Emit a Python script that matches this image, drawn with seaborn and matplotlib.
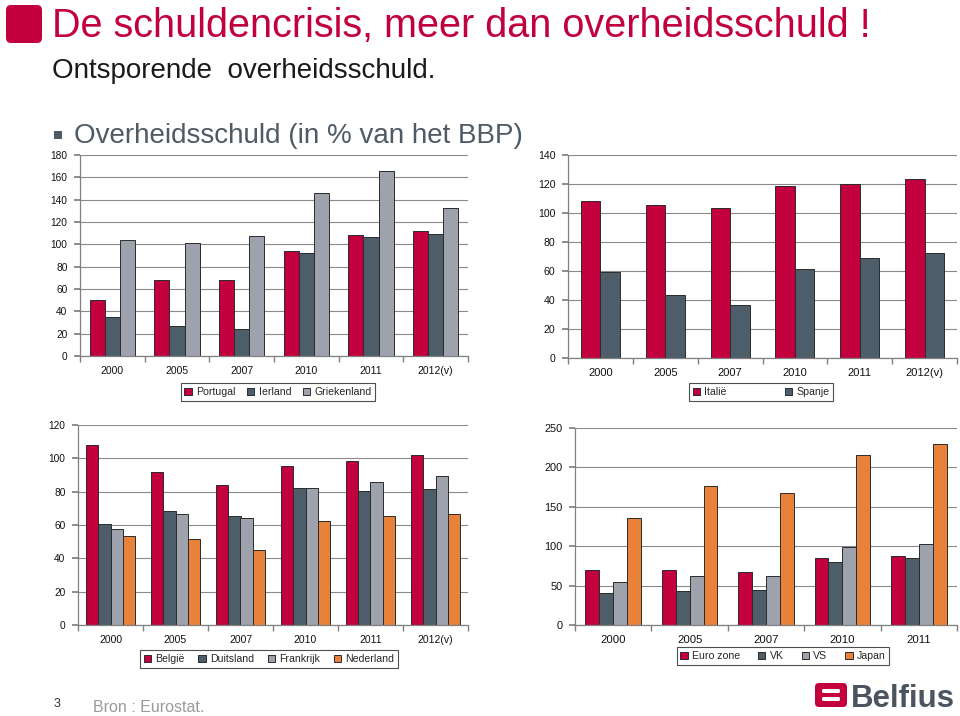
import matplotlib
matplotlib.use('Agg')
import matplotlib.pyplot as plt
import seaborn as sns
import pandas as pd
import numpy as np
from matplotlib.patches import FancyBboxPatch, Rectangle

# ---------------- data ----------------
jaren6 = ['2000', '2005', '2007', '2010', '2011', '2012(v)']
jaren5 = ['2000', '2005', '2007', '2010', '2011']

portugal = [50.5, 67.8, 68.4, 93.8, 108.0, 112.0]
ierland = [34.9, 26.9, 24.6, 92.1, 106.9, 108.9]
griekenland = [104.2, 101.5, 107.5, 145.6, 165.8, 132.6]

italie = [108.6, 105.6, 103.3, 118.7, 120.3, 123.5]
spanje = [59.6, 43.5, 36.7, 61.4, 69.2, 72.2]

belgie = [107.8, 91.9, 84.3, 95.6, 98.2, 101.8]
duitsland = [60.5, 68.5, 65.3, 82.5, 80.5, 81.9]
frankrijk = [57.5, 66.7, 64.3, 82.5, 86.1, 89.3]
nederland = [53.7, 51.7, 45.1, 62.7, 65.3, 66.9]

eurozone = [69.4, 70.2, 66.8, 85.0, 87.1]
vk = [41.0, 42.7, 44.4, 80.0, 85.0]
vs = [54.6, 61.8, 62.2, 99.0, 102.8]
japan = [135.4, 176.0, 167.5, 215.7, 229.7]

RED = '#C3003E'
DARK = '#4E5D6A'
GRAY = '#9DA2AD'
ORANGE = '#E8823A'

sns.set_theme(style='white')
plt.rcParams['font.family'] = ['Liberation Sans', 'DejaVu Sans']

W, H = 960, 716
fig = plt.figure(figsize=(W / 100, H / 100), dpi=100)
fig.patch.set_facecolor('white')


def rect_px(left, right, top, bottom):
    return [left / W, 1 - bottom / H, (right - left) / W, (bottom - top) / H]


def draw(rect, cats, names, values, colors, ymax, ystep, width, fs_x, fs_y, leg_center, colsp):
    ax = fig.add_axes(rect)
    rows = []
    for name, vals in zip(names, values):
        for c, v in zip(cats, vals):
            rows.append({'jaar': c, 'waarde': v, 'land': name})
    df = pd.DataFrame(rows)
    sns.barplot(data=df, x='jaar', y='waarde', hue='land', order=cats, hue_order=names,
                palette=colors, saturation=1, width=width, edgecolor='#2b2b2b', linewidth=0.7,
                errorbar=None, ax=ax)
    n = len(cats)
    ax.set_xlim(-0.5, n - 0.5)
    ax.set_ylim(0, ymax)
    ax.set_yticks(np.arange(0, ymax + 1, ystep))
    ax.yaxis.grid(True, color='#8a8a8a', lw=0.8)
    ax.set_axisbelow(True)
    for s in ['top', 'right']:
        ax.spines[s].set_visible(False)
    for s in ['left', 'bottom']:
        ax.spines[s].set_color('#808080')
        ax.spines[s].set_linewidth(0.9)
    ax.set_xlabel('')
    ax.set_ylabel('')
    ax.set_xticks(np.arange(-0.5, n, 1.0), minor=True)
    ax.tick_params(axis='x', which='major', length=0, labelsize=fs_x, pad=7, colors='#111111')
    ax.tick_params(axis='x', which='minor', length=4, direction='out', color='#808080', bottom=True)
    ax.tick_params(axis='y', length=4, direction='out', labelsize=fs_y, pad=5, color='#808080',
                   left=True, labelcolor='#111111')
    handles, labels = ax.get_legend_handles_labels()
    if ax.get_legend() is not None:
        ax.get_legend().remove()
    leg = fig.legend(handles, labels, loc='center', bbox_to_anchor=(leg_center[0] / W, 1 - leg_center[1] / H),
                     ncol=len(names), frameon=True, fancybox=False, edgecolor='#222222', fontsize=7.6,
                     handlelength=0.7, handleheight=0.7, handletextpad=0.4, columnspacing=colsp,
                     borderpad=0.35)
    leg.get_frame().set_linewidth(0.8)
    return ax


draw(rect_px(80, 468, 155, 356), jaren6, ['Portugal', 'Ierland', 'Griekenland'],
     [portugal, ierland, griekenland], [RED, DARK, GRAY], 180, 20, 0.70, 7.5, 7.3, (278, 392), 1.1)
draw(rect_px(568, 957, 155, 358), jaren6, ['Italië', 'Spanje'],
     [italie, spanje], [RED, DARK], 140, 20, 0.60, 8.0, 7.6, (761, 392), 5.5)
draw(rect_px(78, 468, 425, 625), jaren6, ['België', 'Duitsland', 'Frankrijk', 'Nederland'],
     [belgie, duitsland, frankrijk, nederland], [RED, DARK, GRAY, ORANGE], 120, 20, 0.76, 7.5, 7.3,
     (269, 659), 1.3)
draw(rect_px(575, 957, 428, 625), jaren5, ['Euro zone', 'VK', 'VS', 'Japan'],
     [eurozone, vk, vs, japan], [RED, DARK, GRAY, ORANGE], 250, 50, 0.73, 8.2, 7.9, (783, 656), 1.7)

# ---------------- overlay: titles, decorations ----------------
ov = fig.add_axes([0, 0, 1, 1], zorder=-1)
ov.set_xlim(0, W)
ov.set_ylim(H, 0)
ov.axis('off')

ov.add_patch(FancyBboxPatch((6, 5), 36, 38, boxstyle='round,pad=0,rounding_size=5',
                            facecolor=RED, edgecolor='none'))
ov.text(52, 37, 'De schuldencrisis, meer dan overheidsschuld !', color=RED, fontsize=28.5,
        va='baseline', ha='left')
ov.text(52, 78, 'Ontsporende  overheidsschuld.', color='#1a1a1a', fontsize=20,
        va='baseline', ha='left')
ov.add_patch(Rectangle((54, 131), 8, 8, facecolor='#4E5A65', edgecolor='none'))
ov.text(74, 143, 'Overheidsschuld (in % van het BBP)', color='#4F5A64', fontsize=20,
        va='baseline', ha='left')

ov.text(54, 707, '3', color='#333333', fontsize=9, va='baseline', ha='left')
ov.text(93, 712, 'Bron : Eurostat.', color='#9a9a9a', fontsize=11.5, va='baseline', ha='left')

# Belfius logo
ov.add_patch(FancyBboxPatch((815, 683), 32, 24, boxstyle='round,pad=0,rounding_size=4',
                            facecolor=RED, edgecolor='none'))
ov.add_patch(FancyBboxPatch((822, 689), 18, 4, boxstyle='round,pad=0,rounding_size=1.5',
                            facecolor='white', edgecolor='none'))
ov.add_patch(FancyBboxPatch((822, 697), 18, 4, boxstyle='round,pad=0,rounding_size=1.5',
                            facecolor='white', edgecolor='none'))
ov.text(851, 707, 'Belfius', color='#4A5560', fontsize=22.5, fontweight='bold',
        va='baseline', ha='left')

fig.savefig('out.png', dpi=100, facecolor='white')
